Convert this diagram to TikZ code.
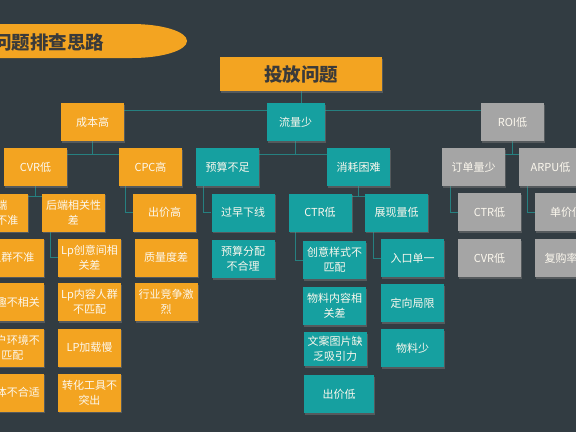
\documentclass[tikz,border=0pt]{standalone}
\usepackage{fontspec}
\setmainfont{Noto Sans CJK SC}
\usetikzlibrary{shadows}
\definecolor{bgc}{RGB}{50,60,66}
\definecolor{orgc}{RGB}{243,164,33}
\definecolor{teac}{RGB}{22,160,160}
\definecolor{gryc}{RGB}{165,165,165}
\definecolor{wirc}{RGB}{38,128,128}
\definecolor{txtc}{RGB}{252,248,238}
\definecolor{ttlc}{RGB}{58,58,58}
\pgfdeclarelayer{back}
\pgfdeclarelayer{wires}
\pgfsetlayers{back,wires,main}

\begin{document}
\begin{tikzpicture}[line cap=round,line join=round,x=1pt,y=-1pt,
  shade/.style={drop shadow={shadow xshift=1.2pt,shadow yshift=-1.5pt,opacity=0.45}},
  cell/.style={shade,minimum height=38pt,text width=60pt,inner xsep=1.5pt,inner ysep=0pt,align=center,text=txtc,font=\fontsize{11pt}{15pt}\selectfont},
  obox/.style={cell,fill=orgc},
  tbox/.style={cell,fill=teac},
  gbox/.style={cell,fill=gryc},
  head/.style={text=ttlc,font=\fontsize{18.5pt}{20pt}\selectfont\bfseries},
  wire/.style={draw=wirc,line width=0.6pt}]
\useasboundingbox (0,0) rectangle (576,432);
\begin{pgfonlayer}{back}
\fill[bgc] (0,0) rectangle (576,432);
\end{pgfonlayer}
\clip (0,0) rectangle (576,432);
% title banner
\fill[orgc] (-20,24) -- (132,24) arc[start angle=-90,end angle=90,x radius=55,y radius=17] -- (-20,58) -- cycle;
\node[head] (ttl) at (49,42) {问题排查思路};
\node[head,shade,fill=orgc,minimum width=162pt,minimum height=34pt] (root) at (301,74) {投放问题};
% level 1
\node[obox] (cost) at (92.5,122) {成本高};
\node[tbox,text width=55pt] (flow) at (295.5,122) {流量少};
\node[gbox] (roi) at (512.5,122) {ROI低};
% level 2
\node[obox] (cvr) at (35.5,167) {CVR低};
\node[obox] (cpc) at (150.5,167) {CPC高};
\node[tbox] (budget) at (227.5,167) {预算不足};
\node[tbox] (spend) at (358.5,167) {消耗困难};
\node[gbox] (order) at (473.5,167) {订单量少};
\node[gbox] (arpu) at (550.5,167) {ARPU低};
% level 3
\node[obox] (front) at (-3.5,212.5) {前端\\定向不准};
\node[obox] (backend) at (73.5,212.5) {后端相关性\\差};
\node[obox] (bid) at (164.5,212.5) {出价高};
\node[tbox] (early) at (243,212.5) {过早下线};
\node[tbox] (ctr) at (320,212.5) {CTR低};
\node[tbox] (show) at (396.5,212.5) {展现量低};
\node[gbox] (gctr) at (489.5,212) {CTR低};
\node[gbox] (price) at (566.5,212) {单价低};
% columns
\node[obox] (crowd) at (12.5,257.5) {人群不准};
\node[obox] (interest) at (12.5,302) {兴趣不相关};
\node[obox] (env) at (12.5,347.5) {用户环境不\\匹配};
\node[obox] (media) at (12.5,392.5) {媒体不合适};
\node[obox] (lp1) at (89.5,257.5) {Lp创意间相\\关差};
\node[obox] (lp2) at (89.5,302) {Lp内容人群\\不匹配};
\node[obox] (lp3) at (89.5,347.5) {LP加载慢};
\node[obox] (lp4) at (89.5,392.5) {转化工具不\\突出};
\node[obox] (quality) at (166,257.5) {质量度差};
\node[obox] (compete) at (166,302) {行业竞争激\\烈};
\node[tbox] (alloc) at (243,259) {预算分配\\不合理};
\node[tbox] (form) at (334.5,260) {创意样式不\\匹配};
\node[tbox] (mat) at (334.5,306) {物料内容相\\关差};
\node[tbox,minimum height=34pt] (copy) at (335,349) {文案图片缺\\乏吸引力};
\node[tbox,text width=67pt] (low) at (339,394) {出价低};
\node[tbox] (entry) at (412.5,258) {入口单一};
\node[tbox] (target) at (412.5,303) {定向局限};
\node[tbox] (few) at (412.5,348) {物料少};
\node[gbox] (gcvr) at (489.5,258) {CVR低};
\node[gbox] (rebuy) at (566.5,258) {复购率低};
% connectors
\begin{pgfonlayer}{wires}
\coordinate (b1) at (0,110);
\coordinate (b2) at (0,154);
\coordinate (b3) at (0,196);
\draw[wire] (root.south) -- (root.south |- b1);
\draw[wire] (cost.center |- b1) -- (roi.center |- b1);
\foreach \p/\a/\b in {cost/cvr/cpc, flow/budget/spend, roi/order/arpu}{
  \draw[wire] (\p.south) -- (\p.south |- b2);
  \draw[wire] (\a.center |- b2) -- (\b.center |- b2);
}
\foreach \p/\a/\b in {cvr/front/backend, spend/ctr/show}{
  \draw[wire] (\p.south) -- (\p.south |- b3);
  \draw[wire] (\a.center |- b3) -- (\b.center |- b3);
}
\foreach \p/\c in {cpc/bid, budget/early, order/gctr, arpu/price, front/crowd, backend/lp1, ctr/form, show/entry}{
  \coordinate (k) at ([xshift=-8pt]\c.west);
  \draw[wire] (k |- \p.south) |- (\c.west);
}
\end{pgfonlayer}
\end{tikzpicture}
\end{document}
